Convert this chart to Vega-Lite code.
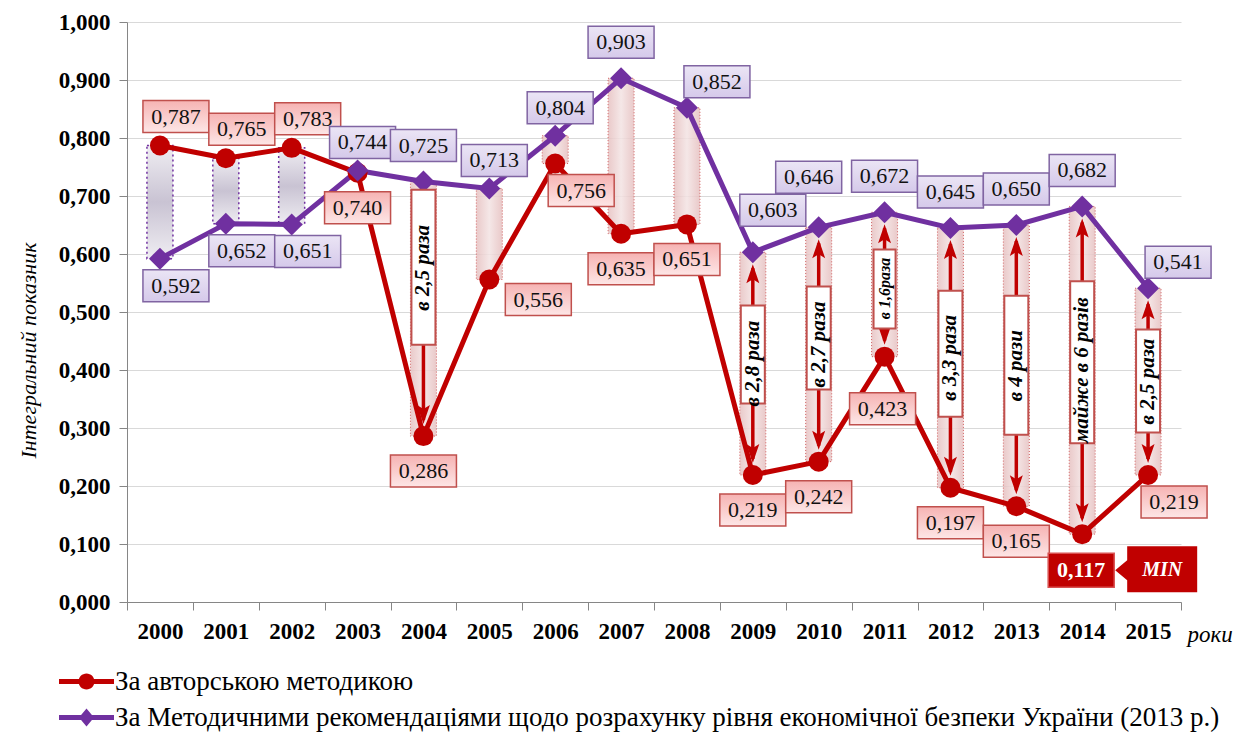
{
  "$schema": "https://vega.github.io/schema/vega-lite/v6.json",
  "width": 1054,
  "height": 580,
  "autosize": "none",
  "padding": {"left": 127, "top": 22, "right": 60, "bottom": 131},
  "background": "white",
  "config": {
    "font": "Liberation Serif",
    "view": {"stroke": null},
    "locale": {"number": {"decimal": ",", "thousands": " ", "grouping": [3], "currency": ["", ""]}},
    "text": {"font": "Liberation Serif"}
  },
  "data": {"values": [
    {"year": "2000", "author": 0.787, "methodical": 0.592, "ratio": null},
    {"year": "2001", "author": 0.765, "methodical": 0.652, "ratio": null},
    {"year": "2002", "author": 0.783, "methodical": 0.651, "ratio": null},
    {"year": "2003", "author": 0.740, "methodical": 0.744, "ratio": null},
    {"year": "2004", "author": 0.286, "methodical": 0.725, "ratio": "в 2,5 раза"},
    {"year": "2005", "author": 0.556, "methodical": 0.713, "ratio": null},
    {"year": "2006", "author": 0.756, "methodical": 0.804, "ratio": null},
    {"year": "2007", "author": 0.635, "methodical": 0.903, "ratio": null},
    {"year": "2008", "author": 0.651, "methodical": 0.852, "ratio": null},
    {"year": "2009", "author": 0.219, "methodical": 0.603, "ratio": "в 2,8 раза"},
    {"year": "2010", "author": 0.242, "methodical": 0.646, "ratio": "в 2,7 раза"},
    {"year": "2011", "author": 0.423, "methodical": 0.672, "ratio": "в 1,6раза"},
    {"year": "2012", "author": 0.197, "methodical": 0.645, "ratio": "в 3,3 раза"},
    {"year": "2013", "author": 0.165, "methodical": 0.650, "ratio": "в 4 рази"},
    {"year": "2014", "author": 0.117, "methodical": 0.682, "ratio": "майже в 6 разів"},
    {"year": "2015", "author": 0.219, "methodical": 0.541, "ratio": "в 2,5 раза"}
  ]},
  "encoding": {
    "x": {
      "field": "year", "type": "ordinal",
      "scale": {"type": "band", "paddingInner": 0, "paddingOuter": 0},
      "axis": {
        "title": "роки", "titleFont": "Liberation Serif", "titleFontStyle": "italic", "titleFontWeight": "normal",
        "titleFontSize": 23, "titleColor": "#000", "titleAnchor": "end", "titleAlign": "left", "titleBaseline": "alphabetic",
        "titleX": 1060, "titleY": 39,
        "labelAngle": 0, "labelFont": "Liberation Serif", "labelFontWeight": "bold", "labelFontSize": 23, "labelColor": "#000",
        "labelPadding": 10, "tickBand": "extent", "tickSize": 8, "tickColor": "#868686", "domainColor": "#868686", "grid": false
      }
    }
  },
  "layer": [
    {
      "transform": [{"filter": "indexof(['2000','2001','2002'], datum.year) >= 0"}],
      "mark": {"type": "bar", "width": 26,
        "fill": {"gradient": "linear", "x1": 0, "y1": 0, "x2": 0, "y2": 1, "stops": [{"offset": 0, "color": "#efedf2"}, {"offset": 0.5, "color": "#c9c3d3"}, {"offset": 1, "color": "#efedf2"}]},
        "stroke": "#7030a0", "strokeWidth": 1.5, "strokeDash": [2, 3]},
      "encoding": {
        "y": {"field": "author", "type": "quantitative", "scale": {"domain": [0, 1]}, "title": "Інтегральний показник",
          "axis": {
            "title": "Інтегральний показник", "titleFont": "Liberation Serif", "titleFontStyle": "italic", "titleFontWeight": "normal",
            "titleFontSize": 22, "titleColor": "#000", "titleX": -99, "titleY": 328, "titleBaseline": "middle", "titleAngle": -90,
            "values": [0, 0.1, 0.2, 0.3, 0.4, 0.5, 0.6, 0.7, 0.8, 0.9, 1.0], "format": ".3f",
            "labelFont": "Liberation Serif", "labelFontWeight": "bold", "labelFontSize": 23, "labelColor": "#000", "labelPadding": 9,
            "tickSize": 8, "tickColor": "#868686", "domainColor": "#868686", "grid": true, "gridColor": "#d9d9d9"
          }},
        "y2": {"field": "methodical"}
      }
    },
    {
      "transform": [{"filter": "indexof(['2000','2001','2002','2003'], datum.year) < 0"}],
      "mark": {"type": "bar", "width": 26,
        "fill": {"gradient": "linear", "x1": 0, "y1": 0, "x2": 1, "y2": 0, "stops": [{"offset": 0, "color": "#e6c0c0"}, {"offset": 0.5, "color": "#f3e3e3"}, {"offset": 1, "color": "#e6c0c0"}]},
        "fillOpacity": 0.85, "stroke": "#d06060", "strokeWidth": 1, "strokeDash": [1, 2]},
      "encoding": {
        "y": {"field": "author", "type": "quantitative", "title": "Інтегральний показник"},
        "y2": {"field": "methodical"}
      }
    },
    {
      "transform": [{"filter": "datum.ratio != null"}],
      "mark": {"type": "rule", "color": "#c00000", "strokeWidth": 3.5, "yOffset": 16, "y2Offset": -16},
      "encoding": {
        "y": {"field": "methodical", "type": "quantitative", "title": "Інтегральний показник"},
        "y2": {"field": "author"}
      }
    },
    {
      "transform": [{"filter": "datum.ratio != null"}],
      "mark": {"type": "point", "shape": "M0,0L6.5,19L0,15L-6.5,19Z", "size": 4, "filled": true, "fill": "#c00000", "strokeWidth": 0, "opacity": 1, "yOffset": 12},
      "encoding": {"y": {"field": "methodical", "type": "quantitative", "title": "Інтегральний показник"}}
    },
    {
      "transform": [{"filter": "datum.ratio != null"}],
      "mark": {"type": "point", "shape": "M0,0L6.5,-19L0,-15L-6.5,-19Z", "size": 4, "filled": true, "fill": "#c00000", "strokeWidth": 0, "opacity": 1, "yOffset": -12},
      "encoding": {"y": {"field": "author", "type": "quantitative", "title": "Інтегральний показник"}}
    },
    {
      "transform": [{"fold": ["author", "methodical"], "as": ["key", "value"]}],
      "mark": {"type": "line", "strokeWidth": 5, "strokeJoin": "round"},
      "encoding": {
        "y": {"field": "value", "type": "quantitative", "title": "Інтегральний показник"},
        "color": {
          "field": "key", "type": "nominal",
          "scale": {"domain": ["author", "methodical"], "range": ["#c00000", "#7030a0"]},
          "legend": {
            "orient": "none", "legendX": -54, "legendY": 646, "direction": "vertical", "title": null,
            "labelFont": "Liberation Serif", "labelFontSize": 27, "labelColor": "#000", "labelLimit": 1200,
            "labelOffset": 15, "rowPadding": 8, "symbolSize": 4, "padding": 0,
            "labelExpr": "datum.value === 'author' ? 'За авторською методикою' : 'За Методичними рекомендаціями щодо розрахунку  рівня економічної безпеки України (2013 р.)'",
            "encode": {"symbols": {"update": {
              "shape": {"signal": "datum.value === 'author' ? 'M-27.5,-2.5H27.5V2.5H-27.5Z M8,0A8,8 0 1,1 -8,0A8,8 0 1,1 8,0Z' : 'M-27.5,-2.5H27.5V2.5H-27.5Z M0,-9L7.5,0L0,9L-7.5,0Z'"},
              "fill": {"signal": "datum.value === 'author' ? '#c00000' : '#7030a0'"},
              "strokeWidth": {"value": 0},
              "opacity": {"value": 1}
            }}}
          }
        }
      }
    },
    {
      "mark": {"type": "point", "shape": "circle", "size": 400, "filled": true, "color": "#c00000", "opacity": 1},
      "encoding": {"y": {"field": "author", "type": "quantitative", "title": "Інтегральний показник"}}
    },
    {
      "mark": {"type": "point", "shape": "diamond", "size": 484, "filled": true, "color": "#7030a0", "opacity": 1},
      "encoding": {"y": {"field": "methodical", "type": "quantitative", "title": "Інтегральний показник"}}
    },
    {
      "transform": [{"filter": "datum.ratio != null"}, {"fold": ["author", "methodical"], "as": ["k", "v"]}],
      "mark": {"type": "point", "size": 4, "filled": true, "fill": "white", "stroke": "#c0504d", "strokeWidth": 2, "opacity": 1},
      "encoding": {
        "y": {"aggregate": "mean", "field": "v", "type": "quantitative", "title": "Інтегральний показник"},
        "shape": {"field": "year", "type": "nominal", "legend": null,
          "scale": {
            "domain": ["2004", "2009", "2010", "2011", "2012", "2013", "2014", "2015"],
            "range": [
              "M-12,-119H12V36H-12Z",
              "M-12,-58H12V40H-12Z",
              "M-12,-58H12V45H-12Z",
              "M-11,-35H11V44H-11Z",
              "M-12,-67H12V59H-12Z",
              "M-12,-70H12V69H-12Z",
              "M-12,-89H12V73H-12Z",
              "M-12,-52H12V51H-12Z"
            ]}}
      }
    },
    {
      "transform": [{"filter": "datum.ratio != null && datum.year != '2004' && datum.year != '2011'"}, {"fold": ["author", "methodical"], "as": ["k", "v"]}],
      "mark": {"type": "text", "angle": 270, "font": "Liberation Serif", "fontStyle": "italic", "fontWeight": "bold", "fontSize": 21, "color": "#000", "align": "center", "baseline": "middle"},
      "encoding": {
        "y": {"aggregate": "mean", "field": "v", "type": "quantitative", "title": "Інтегральний показник"},
        "text": {"field": "ratio", "type": "nominal"}
      }
    },
    {
      "transform": [{"filter": "datum.year == '2004'"}, {"fold": ["author", "methodical"], "as": ["k", "v"]}],
      "mark": {"type": "text", "angle": 270, "font": "Liberation Serif", "fontStyle": "italic", "fontWeight": "bold", "fontSize": 21, "color": "#000", "align": "center", "baseline": "middle", "yOffset": -41},
      "encoding": {
        "y": {"aggregate": "mean", "field": "v", "type": "quantitative", "title": "Інтегральний показник"},
        "text": {"field": "ratio", "type": "nominal"}
      }
    },
    {
      "transform": [{"filter": "datum.year == '2011'"}, {"fold": ["author", "methodical"], "as": ["k", "v"]}],
      "mark": {"type": "text", "angle": 270, "font": "Liberation Serif", "fontStyle": "italic", "fontWeight": "bold", "fontSize": 16, "color": "#000", "align": "center", "baseline": "middle", "yOffset": 4},
      "encoding": {
        "y": {"aggregate": "mean", "field": "v", "type": "quantitative", "title": "Інтегральний показник"},
        "text": {"field": "ratio", "type": "nominal"}
      }
    },

    {"transform": [{"filter": "indexof(['2000','2001','2002'], datum.year) >= 0"}],
     "mark": {"type": "point", "shape": "M-33,-16H33V16H-33Z", "size": 4, "filled": true, "opacity": 1, "stroke": "#c0504d", "strokeWidth": 1.5, "xOffset": 16, "yOffset": -29,
       "fill": {"gradient": "linear", "x1": 0, "y1": 0, "x2": 0, "y2": 1, "stops": [{"offset": 0, "color": "#f6b3b3"}, {"offset": 1, "color": "#fde6e6"}]}},
     "encoding": {"y": {"field": "author", "type": "quantitative", "title": "Інтегральний показник"}}},
    {"transform": [{"filter": "indexof(['2000','2001','2002'], datum.year) >= 0"}],
     "mark": {"type": "text", "font": "Liberation Serif", "fontSize": 22, "color": "#111", "xOffset": 16, "yOffset": -29, "baseline": "middle"},
     "encoding": {"y": {"field": "author", "type": "quantitative", "title": "Інтегральний показник"}, "text": {"field": "author", "type": "quantitative", "format": ".3f"}}},

    {"transform": [{"filter": "indexof(['2003','2004','2007','2008','2009','2010','2012','2013'], datum.year) >= 0"}],
     "mark": {"type": "point", "shape": "M-33,-16H33V16H-33Z", "size": 4, "filled": true, "opacity": 1, "stroke": "#c0504d", "strokeWidth": 1.5, "xOffset": 0, "yOffset": 35,
       "fill": {"gradient": "linear", "x1": 0, "y1": 0, "x2": 0, "y2": 1, "stops": [{"offset": 0, "color": "#f6b3b3"}, {"offset": 1, "color": "#fde6e6"}]}},
     "encoding": {"y": {"field": "author", "type": "quantitative", "title": "Інтегральний показник"}}},
    {"transform": [{"filter": "indexof(['2003','2004','2007','2008','2009','2010','2012','2013'], datum.year) >= 0"}],
     "mark": {"type": "text", "font": "Liberation Serif", "fontSize": 22, "color": "#111", "xOffset": 0, "yOffset": 35, "baseline": "middle"},
     "encoding": {"y": {"field": "author", "type": "quantitative", "title": "Інтегральний показник"}, "text": {"field": "author", "type": "quantitative", "format": ".3f"}}},

    {"transform": [{"filter": "datum.year == '2005'"}],
     "mark": {"type": "point", "shape": "M-33,-16H33V16H-33Z", "size": 4, "filled": true, "opacity": 1, "stroke": "#c0504d", "strokeWidth": 1.5, "xOffset": 49, "yOffset": 20,
       "fill": {"gradient": "linear", "x1": 0, "y1": 0, "x2": 0, "y2": 1, "stops": [{"offset": 0, "color": "#f6b3b3"}, {"offset": 1, "color": "#fde6e6"}]}},
     "encoding": {"y": {"field": "author", "type": "quantitative", "title": "Інтегральний показник"}}},
    {"transform": [{"filter": "datum.year == '2005'"}],
     "mark": {"type": "text", "font": "Liberation Serif", "fontSize": 22, "color": "#111", "xOffset": 49, "yOffset": 20, "baseline": "middle"},
     "encoding": {"y": {"field": "author", "type": "quantitative", "title": "Інтегральний показник"}, "text": {"field": "author", "type": "quantitative", "format": ".3f"}}},

    {"transform": [{"filter": "datum.year == '2006' || datum.year == '2015'"}],
     "mark": {"type": "point", "shape": "M-33,-16H33V16H-33Z", "size": 4, "filled": true, "opacity": 1, "stroke": "#c0504d", "strokeWidth": 1.5, "xOffset": 26, "yOffset": 27,
       "fill": {"gradient": "linear", "x1": 0, "y1": 0, "x2": 0, "y2": 1, "stops": [{"offset": 0, "color": "#f6b3b3"}, {"offset": 1, "color": "#fde6e6"}]}},
     "encoding": {"y": {"field": "author", "type": "quantitative", "title": "Інтегральний показник"}}},
    {"transform": [{"filter": "datum.year == '2006' || datum.year == '2015'"}],
     "mark": {"type": "text", "font": "Liberation Serif", "fontSize": 22, "color": "#111", "xOffset": 26, "yOffset": 27, "baseline": "middle"},
     "encoding": {"y": {"field": "author", "type": "quantitative", "title": "Інтегральний показник"}, "text": {"field": "author", "type": "quantitative", "format": ".3f"}}},

    {"transform": [{"filter": "datum.year == '2011'"}],
     "mark": {"type": "point", "shape": "M-33,-16H33V16H-33Z", "size": 4, "filled": true, "opacity": 1, "stroke": "#c0504d", "strokeWidth": 1.5, "xOffset": -2, "yOffset": 52,
       "fill": {"gradient": "linear", "x1": 0, "y1": 0, "x2": 0, "y2": 1, "stops": [{"offset": 0, "color": "#f6b3b3"}, {"offset": 1, "color": "#fde6e6"}]}},
     "encoding": {"y": {"field": "author", "type": "quantitative", "title": "Інтегральний показник"}}},
    {"transform": [{"filter": "datum.year == '2011'"}],
     "mark": {"type": "text", "font": "Liberation Serif", "fontSize": 22, "color": "#111", "xOffset": -2, "yOffset": 52, "baseline": "middle"},
     "encoding": {"y": {"field": "author", "type": "quantitative", "title": "Інтегральний показник"}, "text": {"field": "author", "type": "quantitative", "format": ".3f"}}},

    {"transform": [{"filter": "datum.year == '2014'"}],
     "mark": {"type": "point", "shape": "M-33,-17H33V17H-33Z", "size": 4, "filled": true, "opacity": 1, "fill": "#c00000", "stroke": "#d95050", "strokeWidth": 1.5, "xOffset": -1, "yOffset": 36},
     "encoding": {"y": {"field": "author", "type": "quantitative", "title": "Інтегральний показник"}}},
    {"transform": [{"filter": "datum.year == '2014'"}],
     "mark": {"type": "text", "font": "Liberation Serif", "fontSize": 22, "fontWeight": "bold", "color": "white", "xOffset": -1, "yOffset": 36, "baseline": "middle"},
     "encoding": {"y": {"field": "author", "type": "quantitative", "title": "Інтегральний показник"}, "text": {"field": "author", "type": "quantitative", "format": ".3f"}}},
    {"transform": [{"filter": "datum.year == '2014'"}],
     "mark": {"type": "point", "shape": "M33,36L45,26V12H115V58H45V46Z", "size": 4, "filled": true, "opacity": 1, "fill": "#c00000", "strokeWidth": 0},
     "encoding": {"y": {"field": "author", "type": "quantitative", "title": "Інтегральний показник"}}},
    {"transform": [{"filter": "datum.year == '2014'"}],
     "mark": {"type": "text", "text": "MIN", "font": "Liberation Serif", "fontSize": 20, "fontWeight": "bold", "fontStyle": "italic", "color": "white", "xOffset": 80, "yOffset": 36, "baseline": "middle"},
     "encoding": {"y": {"field": "author", "type": "quantitative", "title": "Інтегральний показник"}}},

    {"transform": [{"filter": "indexof(['2000','2001','2002'], datum.year) >= 0"}],
     "mark": {"type": "point", "shape": "M-33,-16H33V16H-33Z", "size": 4, "filled": true, "opacity": 1, "stroke": "#8064a2", "strokeWidth": 1.5, "xOffset": 16, "yOffset": 27,
       "fill": {"gradient": "linear", "x1": 0, "y1": 0, "x2": 0, "y2": 1, "stops": [{"offset": 0, "color": "#ebe5f5"}, {"offset": 1, "color": "#d5c9ea"}]}},
     "encoding": {"y": {"field": "methodical", "type": "quantitative", "title": "Інтегральний показник"}}},
    {"transform": [{"filter": "indexof(['2000','2001','2002'], datum.year) >= 0"}],
     "mark": {"type": "text", "font": "Liberation Serif", "fontSize": 22, "color": "#111", "xOffset": 16, "yOffset": 27, "baseline": "middle"},
     "encoding": {"y": {"field": "methodical", "type": "quantitative", "title": "Інтегральний показник"}, "text": {"field": "methodical", "type": "quantitative", "format": ".3f"}}},

    {"transform": [{"filter": "indexof(['2003','2005','2006'], datum.year) >= 0"}],
     "mark": {"type": "point", "shape": "M-33,-16H33V16H-33Z", "size": 4, "filled": true, "opacity": 1, "stroke": "#8064a2", "strokeWidth": 1.5, "xOffset": 5, "yOffset": -28,
       "fill": {"gradient": "linear", "x1": 0, "y1": 0, "x2": 0, "y2": 1, "stops": [{"offset": 0, "color": "#ebe5f5"}, {"offset": 1, "color": "#d5c9ea"}]}},
     "encoding": {"y": {"field": "methodical", "type": "quantitative", "title": "Інтегральний показник"}}},
    {"transform": [{"filter": "indexof(['2003','2005','2006'], datum.year) >= 0"}],
     "mark": {"type": "text", "font": "Liberation Serif", "fontSize": 22, "color": "#111", "xOffset": 5, "yOffset": -28, "baseline": "middle"},
     "encoding": {"y": {"field": "methodical", "type": "quantitative", "title": "Інтегральний показник"}, "text": {"field": "methodical", "type": "quantitative", "format": ".3f"}}},

    {"transform": [{"filter": "indexof(['2004','2007','2011','2012','2013','2014'], datum.year) >= 0"}],
     "mark": {"type": "point", "shape": "M-33,-16H33V16H-33Z", "size": 4, "filled": true, "opacity": 1, "stroke": "#8064a2", "strokeWidth": 1.5, "xOffset": 0, "yOffset": -36,
       "fill": {"gradient": "linear", "x1": 0, "y1": 0, "x2": 0, "y2": 1, "stops": [{"offset": 0, "color": "#ebe5f5"}, {"offset": 1, "color": "#d5c9ea"}]}},
     "encoding": {"y": {"field": "methodical", "type": "quantitative", "title": "Інтегральний показник"}}},
    {"transform": [{"filter": "indexof(['2004','2007','2011','2012','2013','2014'], datum.year) >= 0"}],
     "mark": {"type": "text", "font": "Liberation Serif", "fontSize": 22, "color": "#111", "xOffset": 0, "yOffset": -36, "baseline": "middle"},
     "encoding": {"y": {"field": "methodical", "type": "quantitative", "title": "Інтегральний показник"}, "text": {"field": "methodical", "type": "quantitative", "format": ".3f"}}},

    {"transform": [{"filter": "datum.year == '2008' || datum.year == '2015'"}],
     "mark": {"type": "point", "shape": "M-33,-16H33V16H-33Z", "size": 4, "filled": true, "opacity": 1, "stroke": "#8064a2", "strokeWidth": 1.5, "xOffset": 30, "yOffset": -26,
       "fill": {"gradient": "linear", "x1": 0, "y1": 0, "x2": 0, "y2": 1, "stops": [{"offset": 0, "color": "#ebe5f5"}, {"offset": 1, "color": "#d5c9ea"}]}},
     "encoding": {"y": {"field": "methodical", "type": "quantitative", "title": "Інтегральний показник"}}},
    {"transform": [{"filter": "datum.year == '2008' || datum.year == '2015'"}],
     "mark": {"type": "text", "font": "Liberation Serif", "fontSize": 22, "color": "#111", "xOffset": 30, "yOffset": -26, "baseline": "middle"},
     "encoding": {"y": {"field": "methodical", "type": "quantitative", "title": "Інтегральний показник"}, "text": {"field": "methodical", "type": "quantitative", "format": ".3f"}}},

    {"transform": [{"filter": "datum.year == '2009'"}],
     "mark": {"type": "point", "shape": "M-33,-16H33V16H-33Z", "size": 4, "filled": true, "opacity": 1, "stroke": "#8064a2", "strokeWidth": 1.5, "xOffset": 20, "yOffset": -42,
       "fill": {"gradient": "linear", "x1": 0, "y1": 0, "x2": 0, "y2": 1, "stops": [{"offset": 0, "color": "#ebe5f5"}, {"offset": 1, "color": "#d5c9ea"}]}},
     "encoding": {"y": {"field": "methodical", "type": "quantitative", "title": "Інтегральний показник"}}},
    {"transform": [{"filter": "datum.year == '2009'"}],
     "mark": {"type": "text", "font": "Liberation Serif", "fontSize": 22, "color": "#111", "xOffset": 20, "yOffset": -42, "baseline": "middle"},
     "encoding": {"y": {"field": "methodical", "type": "quantitative", "title": "Інтегральний показник"}, "text": {"field": "methodical", "type": "quantitative", "format": ".3f"}}},

    {"transform": [{"filter": "datum.year == '2010'"}],
     "mark": {"type": "point", "shape": "M-33,-16H33V16H-33Z", "size": 4, "filled": true, "opacity": 1, "stroke": "#8064a2", "strokeWidth": 1.5, "xOffset": -10, "yOffset": -50,
       "fill": {"gradient": "linear", "x1": 0, "y1": 0, "x2": 0, "y2": 1, "stops": [{"offset": 0, "color": "#ebe5f5"}, {"offset": 1, "color": "#d5c9ea"}]}},
     "encoding": {"y": {"field": "methodical", "type": "quantitative", "title": "Інтегральний показник"}}},
    {"transform": [{"filter": "datum.year == '2010'"}],
     "mark": {"type": "text", "font": "Liberation Serif", "fontSize": 22, "color": "#111", "xOffset": -10, "yOffset": -50, "baseline": "middle"},
     "encoding": {"y": {"field": "methodical", "type": "quantitative", "title": "Інтегральний показник"}, "text": {"field": "methodical", "type": "quantitative", "format": ".3f"}}}
  ]
}
